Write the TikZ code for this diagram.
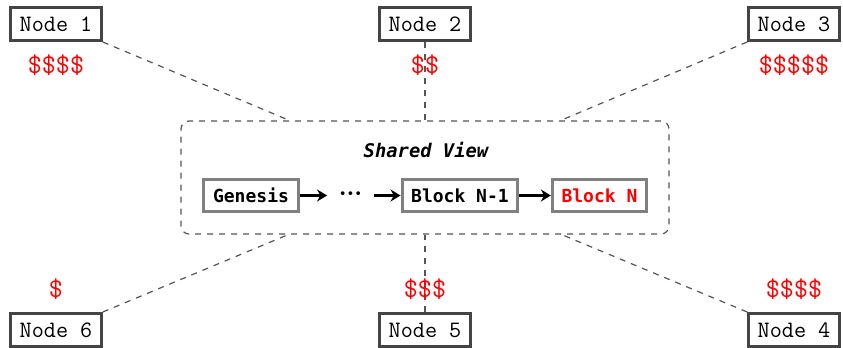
\documentclass[tikz,border=0pt]{standalone}
\usepackage{fontspec}
\usetikzlibrary{arrows.meta, positioning}
\newfontfamily\blkfont{DejaVu Sans Mono}
\definecolor{peercol}{RGB}{68, 68, 68}
\definecolor{blkcol}{RGB}{128, 128, 128}
\definecolor{linkcol}{RGB}{85, 85, 85}
\definecolor{costcol}{RGB}{255, 0, 0}
\tikzset{
  peer/.style  = {draw=peercol, line width=1.5pt, fill=white,
                  font=\ttfamily\fontsize{11.75}{14}\selectfont,
                  inner xsep=4.5pt, inner ysep=0pt, minimum height=16.5pt},
  cost/.style  = {text=costcol, font=\ttfamily\fontsize{13.6}{15}\selectfont,
                  inner sep=0pt},
  view/.style  = {draw=linkcol, dashed, line width=0.6pt, rounded corners=4pt,
                  minimum width=244pt, minimum height=56.5pt},
  blk/.style   = {draw=blkcol, line width=1.5pt, fill=white,
                  font=\blkfont\bfseries\fontsize{9}{11}\selectfont,
                  inner xsep=4.6pt, inner ysep=0pt, minimum height=16pt},
  gap/.style   = {font=\blkfont\fontsize{6.5}{11}\selectfont,
                  inner sep=0pt, minimum width=23pt},
  link/.style  = {draw=linkcol, dashed, line width=0.6pt},
  chain/.style = {-{Stealth[length=5pt, width=6pt]}, line width=1.5pt},
}
\begin{document}
\begin{tikzpicture}[x=0.5pt, y=-0.5pt]
  \useasboundingbox (0,0) rectangle (843,348);

  %% ---------------- the shared view ----------------
  \node[view] (sv) at (425,177.5) {};
  \node[font=\blkfont\bfseries\itshape\fontsize{9.4}{11}\selectfont]
       (title) at (426,150) {Shared View};
  \node[blk] (gen) at (251,195.5) {Genesis};
  \node[gap] (dots) at (350.5,195.5) {•••};
  \node[blk] (prev) at (460,195.5) {Block N-1};
  \node[blk, text=costcol] (last) at (599.5,195.5) {Block N};

  \draw[chain] (gen.east) -- (dots.west);
  \draw[chain] (dots.east) -- (prev.west);
  \draw[chain] (prev.east) -- (last.west);

  %% ---------------- the peers ----------------
  \node[peer] (n1) at (56,24)  {Node 1};
  \node[peer] (n2) at (425,24) {Node 2};
  \node[peer] (n3) at (794,24) {Node 3};
  \node[peer] (n6) at (56,330)  {Node 6};
  \node[peer] (n5) at (425,330) {Node 5};
  \node[peer] (n4) at (794,330) {Node 4};

  \draw[link] (n1.south east) -- (sv);
  \draw[link] (n2.south) -- (sv);
  \draw[link] (n3.south west) -- (sv);
  \draw[link] (n6.north east) -- (sv);
  \draw[link] (n5.north) -- (sv);
  \draw[link] (n4.north west) -- (sv);

  %% ---------------- what each one paid ----------------
  \node[cost, below=6pt of n1] (c1) {\$\$\$\$};
  \node[cost, below=6pt of n2] (c2) {\$\$};
  \node[cost, below=6pt of n3] (c3) {\$\$\$\$\$};
  \node[cost, above=6pt of n6] (c6) {\$};
  \node[cost, above=6pt of n5] (c5) {\$\$\$};
  \node[cost, above=6pt of n4] (c4) {\$\$\$\$};

\end{tikzpicture}
\end{document}
